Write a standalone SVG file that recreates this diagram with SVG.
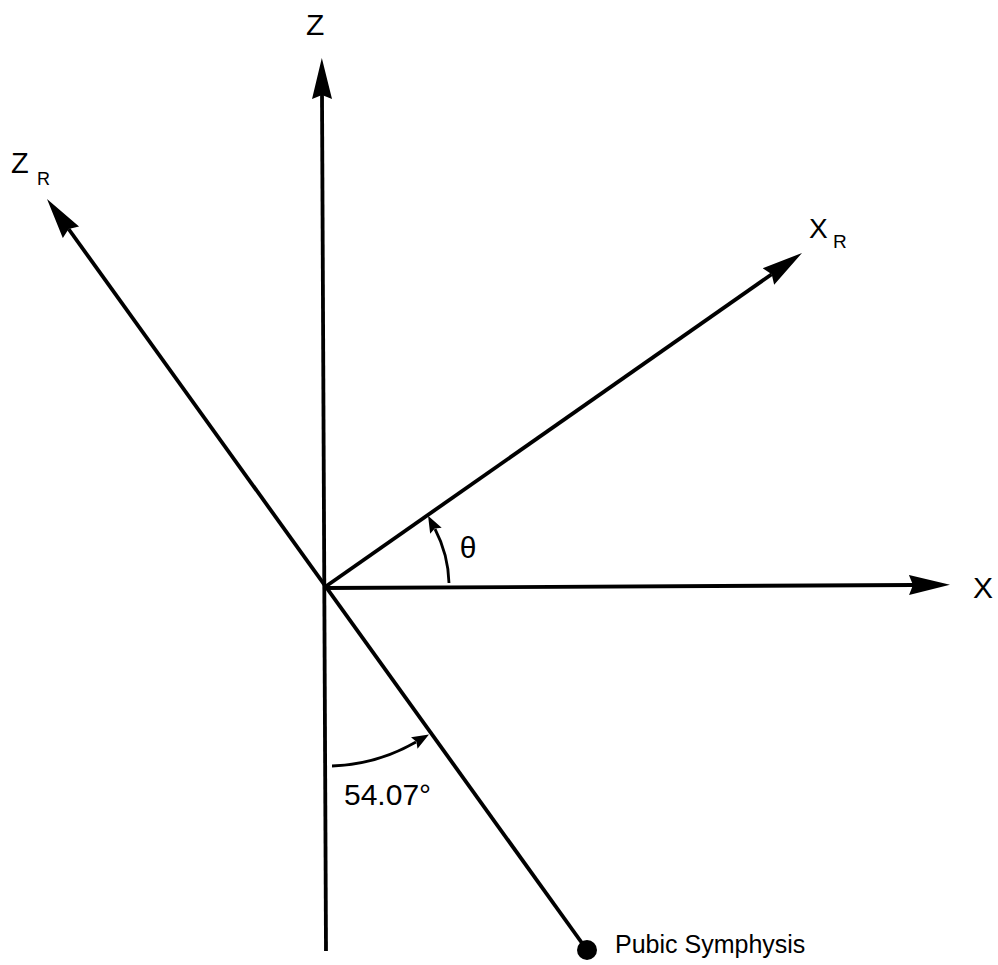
<svg xmlns="http://www.w3.org/2000/svg" width="998" height="965" viewBox="0 0 998 965">
<style>
.ax{stroke:#000;stroke-width:3.8;fill:none;stroke-linecap:butt}
.arc{stroke:#000;stroke-width:2.8;fill:none}
.t{font-family:"Liberation Sans",Arial,sans-serif;fill:#000}
</style>
<defs>
<marker id="big" viewBox="0 -11 44 22" refX="4" refY="0" markerWidth="44" markerHeight="22" markerUnits="userSpaceOnUse" orient="auto">
<path d="M0,-10 L41,0 L0,10 L4,0 Z" fill="#000"/>
</marker>
<marker id="small" viewBox="0 -7 19 14" refX="2" refY="0" markerWidth="19" markerHeight="14" markerUnits="userSpaceOnUse" orient="auto">
<path d="M0,-6.5 L17,0 L0,6.5 L2.5,0 Z" fill="#000"/>
</marker>
</defs>
<rect width="998" height="965" fill="#fff"/>
<g id="connectors">
<line id="z-axis" class="ax" x1="326" y1="951" x2="322" y2="95" marker-end="url(#big)"/>
<line id="x-axis" class="ax" x1="324" y1="588" x2="913" y2="585" marker-end="url(#big)"/>
<line id="xr-axis" class="ax" x1="325" y1="587" x2="771.7" y2="274.2" marker-end="url(#big)"/>
<line id="zr-axis" class="ax" x1="587" y1="950" x2="68.6" y2="229" marker-end="url(#big)"/>
<path id="theta-arc" class="arc" d="M449,583 A124,124 0 0,0 435,529" marker-end="url(#small)"/>
<path id="angle-arc" class="arc" d="M332,766 A180,180 0 0,0 416,742" marker-end="url(#small)"/>
</g>
<g id="label-z"><text class="t" x="306" y="35" font-size="30">Z</text></g>
<g id="label-zr"><text class="t" x="11" y="173" font-size="29">Z</text><text class="t" x="37" y="185" font-size="18">R</text></g>
<g id="label-xr"><text class="t" x="809" y="238" font-size="28">X</text><text class="t" x="833" y="248" font-size="19">R</text></g>
<g id="label-x"><text class="t" x="973" y="598" font-size="30">X</text></g>
<g id="label-theta"><text class="t" x="468" y="558" font-size="30" text-anchor="middle">θ</text></g>
<g id="label-angle"><text class="t" x="344" y="805" font-size="30">54.07°</text></g>
<g id="pubic-symphysis">
<circle cx="587" cy="950" r="10" fill="#000"/>
<text class="t" x="615" y="953" font-size="25">Pubic Symphysis</text>
</g>
</svg>
